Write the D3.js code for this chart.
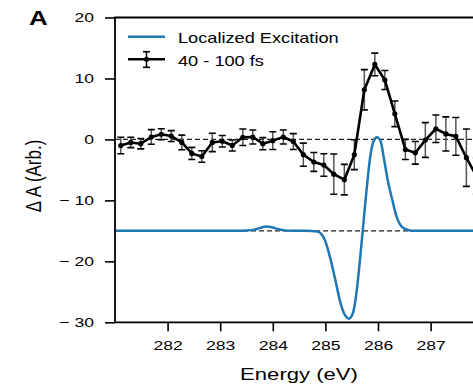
<!DOCTYPE html>
<html>
<head>
<meta charset="utf-8">
<script src="https://cdn.jsdelivr.net/npm/d3@7"></script>
<style>
  body { margin: 0; background: #fff; }
  svg { display: block; }
  text { font-family: "Liberation Sans", Arial, Helvetica, sans-serif; fill: #000; }
</style>
</head>
<body>
<svg id="chart" width="473" height="388"></svg>
<script>
// Measured transient absorption, 40 - 100 fs window
const energies = [281.11, 281.30, 281.49, 281.69, 281.88, 282.07, 282.27, 282.46, 282.65, 282.85,
                  283.04, 283.23, 283.43, 283.62, 283.81, 284.00, 284.20, 284.39, 284.58, 284.78,
                  284.97, 285.16, 285.36, 285.55, 285.74, 285.94, 286.13, 286.32, 286.52, 286.71,
                  286.90, 287.10, 287.29, 287.48, 287.68, 287.87];
const signal = [-1.0, -0.5, -0.7, 0.4, 0.85, 0.55, -0.5, -2.3, -2.8, -0.5,
                -0.3, -1.0, 0.35, 0.4, -0.7, -0.2, 0.4, -0.35, -2.5, -3.7,
                -4.2, -5.7, -6.6, -2.5, 8.15, 12.3, 9.75, 4.2, -1.65, -2.2,
                -0.1, 1.75, 0.9, 0.5, -3.0, -6.0];
const errors = [1.35, 0.85, 0.85, 1.2, 0.9, 0.9, 1.2, 1.0, 0.95, 1.5,
                0.95, 0.9, 1.35, 1.15, 1.0, 1.45, 1.15, 1.3, 1.9, 1.55,
                1.85, 3.3, 2.5, 2.45, 3.3, 1.85, 1.55, 2.1, 1.65, 1.85,
                2.85, 2.25, 2.8, 3.1, 4.7, 3.0];

// Simulated localized-excitation difference spectrum (offset to -15)
const modelEnergy = [281.0, 283.3, 283.5, 283.65, 283.75, 283.87, 284.0, 284.1, 284.2, 284.35,
                     284.6, 284.85, 284.92, 284.99, 285.09, 285.18, 285.28, 285.37, 285.45, 285.53,
                     285.60, 285.66, 285.72, 285.78, 285.85, 285.92, 285.98, 286.05, 286.11, 286.19,
                     286.28, 286.35, 286.45, 286.57, 286.7, 288.5];
const modelSignal = [-15, -15, -14.95, -14.8, -14.55, -14.3, -14.45, -14.7, -14.88, -14.98,
                     -15, -15.1, -15.5, -16.5, -19.4, -22.7, -26.6, -28.8, -29.4, -28.3,
                     -24.5, -19.5, -14.0, -8.5, -3.0, -0.2, 0.35, -0.3, -3.0, -6.9,
                     -10.2, -12.6, -14.3, -14.85, -15, -15];

const referenceLevels = [0, -15];

const xTicks = [282, 283, 284, 285, 286, 287];
const xTickLabels = ["282", "283", "284", "285", "286", "287"];
const yTicks = [-30, -20, -10, 0, 10, 20];
const yTickLabels = ["\u2212 30", "\u2212 20", "\u2212 10", "0", "10", "20"];

const seriesNames = ["Localized Excitation", "40 - 100 fs"];
const blue = "#1f77b4";
const SX = 1.3; // horizontal glyph stretch used for all labels

const svg = d3.select("#chart");
const plotLeft = 115, plotTop = 17.5, plotBottom = 322.3, plotRight = 115 + 7.2 * 52.6;

const x = d3.scaleLinear().domain([281, 288.2]).range([plotLeft, plotRight]);
const y = d3.scaleLinear().domain([-30, 20]).range([plotBottom, plotTop]);

svg.append("defs").append("clipPath").attr("id", "plot-clip")
  .append("rect").attr("x", plotLeft).attr("y", plotTop)
  .attr("width", plotRight - plotLeft).attr("height", plotBottom - plotTop);

const plot = svg.append("g").attr("clip-path", "url(#plot-clip)");

// dashed reference levels
plot.selectAll("line.ref").data(referenceLevels).join("line")
  .attr("class", "ref")
  .attr("x1", plotLeft).attr("x2", plotRight)
  .attr("y1", d => y(d)).attr("y2", d => y(d))
  .attr("stroke", "#222").attr("stroke-width", 1.1)
  .attr("stroke-dasharray", "5,3");

// model curve
const model = modelEnergy.map((e, i) => [e, modelSignal[i]]);
plot.append("path").datum(model)
  .attr("fill", "none").attr("stroke", blue).attr("stroke-width", 2.5)
  .attr("d", d3.line().x(d => x(d[0])).y(d => y(d[1])).curve(d3.curveMonotoneX));

// measured data with error bars
const data = energies.map((e, i) => ({ e, v: signal[i], err: errors[i] }));
const eb = plot.append("g");
eb.selectAll("line.bar").data(data).join("line")
  .attr("class", "bar")
  .attr("x1", d => x(d.e)).attr("x2", d => x(d.e))
  .attr("y1", d => y(d.v - d.err)).attr("y2", d => y(d.v + d.err))
  .attr("stroke", "#555").attr("stroke-width", 1.5);
["lo", "hi"].forEach(k => {
  eb.selectAll("line.cap-" + k).data(data).join("line")
    .attr("class", "cap-" + k)
    .attr("x1", d => x(d.e) - 3.5).attr("x2", d => x(d.e) + 3.5)
    .attr("y1", d => y(k === "lo" ? d.v - d.err : d.v + d.err))
    .attr("y2", d => y(k === "lo" ? d.v - d.err : d.v + d.err))
    .attr("stroke", "#000").attr("stroke-width", 1.6);
});
plot.append("path").datum(data)
  .attr("fill", "none").attr("stroke", "#000").attr("stroke-width", 2.6)
  .attr("stroke-linejoin", "round")
  .attr("d", d3.line().x(d => x(d.e)).y(d => y(d.v)));
plot.selectAll("circle.pt").data(data).join("circle")
  .attr("class", "pt")
  .attr("cx", d => x(d.e)).attr("cy", d => y(d.v)).attr("r", 2.6).attr("fill", "#000");

// axes
const yAxis = svg.append("g").attr("transform", `translate(${plotLeft},0)`)
  .call(d3.axisLeft(y).tickValues(yTicks).tickFormat((d, i) => yTickLabels[i])
    .tickSize(10).tickPadding(11).tickSizeOuter(0));
const xAxis = svg.append("g").attr("transform", `translate(0,${plotBottom})`)
  .call(d3.axisBottom(x).tickValues(xTicks).tickFormat((d, i) => xTickLabels[i])
    .tickSize(9).tickPadding(9.5).tickSizeOuter(0));
[yAxis, xAxis].forEach(g => {
  g.select(".domain").remove();
  g.selectAll(".tick line").attr("stroke", "#000").attr("stroke-width", 1.6);
  g.selectAll(".tick text").attr("font-size", 13.5).attr("fill", "#000")
    .attr("font-family", "'Liberation Sans', Arial, sans-serif")
    .each(function () {
      const t = d3.select(this);
      const tx = +t.attr("x") || 0;
      t.attr("x", tx / SX).attr("transform", `scale(${SX},1)`);
    });
});

// spines: left, top, bottom
svg.append("path")
  .attr("d", `M${plotRight},${plotTop}H${plotLeft}V${plotBottom}H${plotRight}`)
  .attr("fill", "none").attr("stroke", "#000").attr("stroke-width", 1.8);

// labels
function label(g, str, px, py, size, opts = {}) {
  return g.append("text")
    .attr("transform", `translate(${px},${py}) scale(${SX},1)`)
    .attr("font-size", size)
    .attr("text-anchor", opts.anchor || "start")
    .attr("font-weight", opts.weight || "normal")
    .text(str);
}
label(svg, "A", 29, 25, 20, { weight: "bold" });
label(svg, "Energy (eV)", 299, 380, 17, { anchor: "middle" });
svg.append("text")
  .attr("transform", `translate(41,176) scale(${SX},1) rotate(-90)`)
  .attr("font-size", 17).attr("text-anchor", "middle")
  .text("\u0394 A (Arb.)");

// legend
const lg = svg.append("g");
lg.append("line").attr("x1", 128).attr("x2", 165).attr("y1", 36.7).attr("y2", 36.7)
  .attr("stroke", blue).attr("stroke-width", 2.5);
lg.append("line").attr("x1", 128).attr("x2", 165).attr("y1", 59.3).attr("y2", 59.3)
  .attr("stroke", "#000").attr("stroke-width", 2.6);
lg.append("line").attr("x1", 146.5).attr("x2", 146.5).attr("y1", 51.7).attr("y2", 67.3)
  .attr("stroke", "#000").attr("stroke-width", 1.5);
[51.7, 67.3].forEach(cy => lg.append("line").attr("x1", 143).attr("x2", 150)
  .attr("y1", cy).attr("y2", cy).attr("stroke", "#000").attr("stroke-width", 1.6));
lg.append("circle").attr("cx", 146.5).attr("cy", 59.3).attr("r", 2.6).attr("fill", "#000");
label(lg, seriesNames[0], 178, 43.3, 14);
label(lg, seriesNames[1], 178, 65.7, 14);
</script>
</body>
</html>
